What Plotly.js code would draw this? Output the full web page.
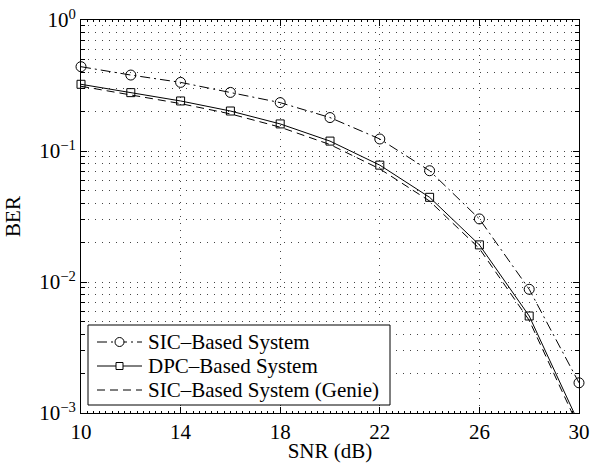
<!DOCTYPE html>
<html>
<head>
<meta charset="utf-8">
<script src="https://cdn.plot.ly/plotly-3.0.1.min.js"></script>
<style>html,body{margin:0;padding:0;background:#fff;}#chart{width:606px;height:463px;}</style>
</head>
<body>
<div id="chart"></div>
<script>
const snr = [10, 12, 14, 16, 18, 20, 22, 24, 26, 28, 30];
const berSIC = [0.44, 0.38, 0.334, 0.28, 0.234, 0.18, 0.1235, 0.0707, 0.0303, 0.0088, 0.0017];
const berDPC = [0.323, 0.279, 0.241, 0.202, 0.161, 0.119, 0.078, 0.0443, 0.0192, 0.0055, 0.00083];
const berGenie = [0.312, 0.268, 0.23, 0.192, 0.152, 0.112, 0.073, 0.0415, 0.018, 0.0051, 0.00077];
const seriesNames = ['SIC–Based System', 'DPC–Based System', 'SIC–Based System (Genie)'];
const xTicks = [10, 14, 18, 22, 26, 30];
const yTicks = [0.001, 0.01, 0.1, 1];
const yTickText = ['10<sup>−3</sup>', '10<sup>−2</sup>', '10<sup>−1</sup>', '10<sup>0</sup>'];
const yMinor = [];
[0.001, 0.01, 0.1].forEach(d => { for (let k = 2; k <= 9; k++) yMinor.push(d * k); });

const font = {family: 'Liberation Serif, Times New Roman, serif', size: 21, color: '#000'};
const gridDash = '1px,6px';
const gridColor = '#444';
const dashes = ['10px,4px,2px,4px', 'solid', '8px,5px'];
const symbols = ['circle-open', 'square-open', null];

const W = 606, H = 463, M = {l: 81, r: 27, t: 20, b: 50};
const PW = W - M.l - M.r, PH = H - M.t - M.b;
const px = v => (v - M.l) / PW;          // pixel x -> paper x
const py = v => (H - M.b - v) / PH;      // pixel y -> paper y

const traces = [
  {x: snr, y: berSIC, name: seriesNames[0], mode: 'lines+markers', cliponaxis: false,
   line: {color: '#000', width: 1, dash: dashes[0]},
   marker: {symbol: symbols[0], size: 10, color: '#000', line: {width: 1, color: '#000'}}},
  {x: snr, y: berDPC, name: seriesNames[1], mode: 'lines+markers', cliponaxis: false,
   line: {color: '#000', width: 1, dash: dashes[1]},
   marker: {symbol: symbols[1], size: 8, color: '#000', line: {width: 1, color: '#000'}}},
  {x: snr, y: berGenie, name: seriesNames[2], mode: 'lines',
   line: {color: '#000', width: 1, dash: dashes[2]}}
];

// legend box drawn as shapes + annotations (paper coordinates)
const box = {x0: 88, x1: 390, y0: 325, y1: 405};
const rowY = [342, 366, 390];
const shapes = [{type: 'rect', xref: 'paper', yref: 'paper', layer: 'above',
  x0: px(box.x0), x1: px(box.x1), y0: py(box.y1), y1: py(box.y0),
  fillcolor: '#fff', line: {color: '#000', width: 1}}];
const annotations = [];
seriesNames.forEach((n, i) => {
  shapes.push({type: 'line', xref: 'paper', yref: 'paper', layer: 'above',
    x0: px(97), x1: px(142), y0: py(rowY[i]), y1: py(rowY[i]),
    line: {color: '#000', width: 1, dash: dashes[i]}});
  if (symbols[i] === 'circle-open') {
    shapes.push({type: 'circle', xref: 'paper', yref: 'paper', layer: 'above',
      x0: px(115), x1: px(124), y0: py(rowY[i] + 4.5), y1: py(rowY[i] - 4.5),
      fillcolor: '#fff', line: {color: '#000', width: 1}});
  } else if (symbols[i] === 'square-open') {
    shapes.push({type: 'rect', xref: 'paper', yref: 'paper', layer: 'above',
      x0: px(116), x1: px(123), y0: py(rowY[i] + 3.5), y1: py(rowY[i] - 3.5),
      fillcolor: '#fff', line: {color: '#000', width: 1}});
  }
  annotations.push({xref: 'paper', yref: 'paper', x: px(146), y: py(rowY[i]),
    xanchor: 'left', yanchor: 'middle', text: n, showarrow: false, font: font});
});

const layout = {
  width: W, height: H,
  margin: M,
  paper_bgcolor: '#fff', plot_bgcolor: '#fff',
  font: font,
  showlegend: false,
  shapes: shapes,
  annotations: annotations,
  xaxis: {range: [10, 30], tickvals: xTicks, ticktext: xTicks.map(String),
          ticks: 'inside', ticklen: 6, tickcolor: '#000', tickwidth: 1,
          showline: true, linecolor: '#000', linewidth: 1, mirror: 'allticks',
          showgrid: true, gridcolor: gridColor, griddash: gridDash, gridwidth: 1,
          zeroline: false,
          minor: {dtick: 0.25, ticks: 'inside', ticklen: 2, tickcolor: '#000', showgrid: false},
          title: {text: 'SNR (dB)', font: font, standoff: 1},
          tickfont: font},
  yaxis: {type: 'log', range: [-3, 0], tickvals: yTicks, ticktext: yTickText,
          ticks: 'inside', ticklen: 6, tickcolor: '#000', tickwidth: 1,
          showline: true, linecolor: '#000', linewidth: 1, mirror: 'allticks',
          showgrid: true, gridcolor: gridColor, griddash: gridDash, gridwidth: 1,
          zeroline: false,
          minor: {tickvals: yMinor, ticks: 'inside', ticklen: 4, tickcolor: '#000',
                  showgrid: true, gridcolor: gridColor, griddash: gridDash, gridwidth: 1},
          title: {text: 'BER', font: font, standoff: 12},
          tickfont: font}
};

Plotly.newPlot('chart', traces, layout, {staticPlot: true});
</script>
</body>
</html>
